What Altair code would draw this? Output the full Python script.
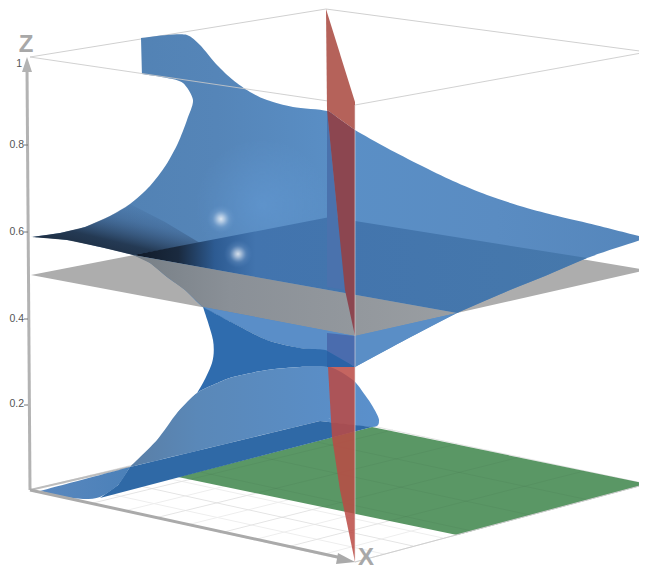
import altair as alt
import pandas as pd

BOX_BACK = [(30,57),(326,9),(647,52)]
BOX_FRONT = [(30,57),(355,105),(647,52)]
FLOOR_EDGE = [(355,562),(647,484)]
FLOOR_BACK = [(30,490),(130,467)]
LF = [(30,490),(61,497),(93,503),(124,511),(155,518),(187,525),(220,533),(253,540),(287,547),(321,555),(355,562)]
BR = [(330,417),(362,424),(393,430),(425,437),(457,444),(489,450),(520,457),(552,464),(584,471),(615,477),(647,484)]
LB = [(30,490),(60,483),(90,475),(120,468),(150,461),(180,454),(210,446),(240,439),(270,432),(300,424),(330,417)]
FR = [(355,562),(384,554),(413,546),(443,538),(472,531),(501,523),(530,515),(559,507),(589,500),(618,492),(647,484)]

GREEN = [(178,477),(372,427),(647,484),(457,535)]
GRAY_PLANE = [(31,275),(330,217),(647,270),(355,336)]
BLUE_UPPER = [(141,38),(167,35),(187,35),(200,45),(217,65),(233,80),(250,92),(267,100),(293,107),(327,111),
              (340,120),(355,130),(387,148),(420,165),(453,181),(487,195),(520,206),(553,215),(587,223),
              (647,238),(587,258),(545,276),(510,290),(457,313),(405,340),(355,367),(330,351),(300,348),(267,340),
              (233,323),(203,307),(185,290),(167,277),(150,263),(133,255),(100,247),(67,240),(32,237),(60,233),
              (85,227),(110,216),(130,204),(150,186),(166,165),(178,143),(187,120),(193,100),(183,83),(167,78),(142,74)]
UPPER_CORNERS = [(141,38),(647,238),(355,367),(32,237),(142,74)]
BLUE_OVER_PLANE = [(133,255),(330,217),(587,258),(545,276),(510,290),(457,313)]
TIP_SHADE = [(32,237),(60,233),(85,227),(110,216),(130,204),(165,222),(200,243),(133,255),(100,247),(67,240)]
GRAY_OVER_BLUE = [(133,255),(457,313),(355,336),(203,307),(185,290),(167,277),(150,263)]
BLUE_BELOW_PLANE = [(355,367),(330,351),(300,348),(267,340),(233,323),(203,307),(355,336)]
BLUE_BELOW_RIGHT = [(355,336),(457,313),(405,340),(355,367)]
BLUE_WAIST = [(203,307),(233,323),(267,340),(300,348),(330,351),(355,367),(330,367),(300,367),(267,370),(233,377),
              (213,385),(197,393),(177,413),(197,393),(212,363),(213,340)]
WAIST_CORNERS = [(203,307),(355,367),(177,413)]
BLUE_LOWER = [(197,393),(213,385),(233,377),(267,370),(300,367),(330,367),(353,380),(365,395),(373,407),(379,420),
              (372,427),(320,421),(130,467),(157,440),(177,413)]
LOWER_CORNERS = [(320,421),(130,467)]
BLUE_BAND = [(130,467),(320,421),(372,427),(330,438),(180,477),(100,498),(118,485)]
BLUE_FOOT = [(40,491),(130,467),(118,485),(100,497),(85,499),(65,497)]

RED_TOP = [(326,9),(355,102),(355,130),(327,110)]
RED_DARK = [(327,110),(355,130),(355,336),(345,290)]
STRIP_TOP = [(327,110),(345,290),(327,287)]
STRIP_MID = [(327,333),(355,336),(355,367),(327,351)]
STRIP_BAND = [(327,351),(355,367),(327,367)]
RED_LOWER = [(328,367),(355,367),(355,562),(340,490),(332,437)]

Z_AXIS = [(30,490),(27,68)]
Z_HEAD = [(22,72),(27,57),(32,72)]
X_AXIS = [(30,490),(342,558)]
X_HEAD = [(338,553),(355,562),(336,564)]
Z_TICKS = [(24,145),(28,145),(24,232),(28,232),(24,319),(28,319),(24,405),(28,405)]
TICK_TEXT = ["1","0.8","0.6","0.4","0.2"]
TICK_X = [22,24,24,24,24]
TICK_Y = [64,145,232,319,404]
GLOW_X = [221,238]
GLOW_Y = [219,254]
SHEEN_X = [262]
SHEEN_Y = [205]
LETTER_X = [26,366]
LETTER_Y = [45,558]
LETTERS = ["Z","X"]

X = alt.X("x:Q", scale=alt.Scale(domain=[8,639], nice=False, zero=False), axis=None)
Y = alt.Y("y:Q", scale=alt.Scale(domain=[569,8], nice=False, zero=False), axis=None)

def frame(pts):
    return pd.DataFrame({"x":[p[0] for p in pts],"y":[p[1] for p in pts],"i":range(len(pts))})

def poly(pts, fill, opacity=1):
    return alt.Chart(frame(pts)).mark_line(fill=fill, fillOpacity=opacity, strokeWidth=0, interpolate="linear-closed").encode(x=X, y=Y, order="i:Q")

def curved(pts, corners, fill, opacity=1):
    out = []
    for p in pts:
        out += [p,p,p] if p in corners else [p]
    return alt.Chart(frame(out)).mark_line(fill=fill, fillOpacity=opacity, strokeWidth=0, interpolate="cardinal-closed", tension=0.2).encode(x=X, y=Y, order="i:Q")

def wire(pts, color, width=1, opacity=1):
    return alt.Chart(frame(pts)).mark_line(color=color, strokeWidth=width, opacity=opacity).encode(x=X, y=Y, order="i:Q")

def lin(x1,y1,x2,y2,stops):
    return alt.Gradient(gradient="linear", x1=x1, y1=y1, x2=x2, y2=y2,
                        stops=[alt.GradientStop(offset=o,color=c) for o,c in stops])

def rad(stops):
    return alt.Gradient(gradient="radial", x1=0.5,y1=0.5,x2=0.5,y2=0.5,r1=0,r2=0.5,
                        stops=[alt.GradientStop(offset=o,color=c) for o,c in stops])

layers = []
layers.append(wire(BOX_BACK,"#d0d0d0"))
for a,b in zip(LF,BR):
    layers.append(wire([a,b],"#eeeeee"))
for a,b in zip(LB,FR):
    layers.append(wire([a,b],"#eeeeee"))
layers.append(poly(GREEN,"#5a9765"))
for a,b in list(zip(LF,BR))[::2]+list(zip(LB,FR))[::2]:
    layers.append(wire([a,b],"#000000",1,0.04))
layers.append(wire(FLOOR_EDGE,"#cfcfcf"))
layers.append(wire(FLOOR_BACK,"#bdbdbd",2))
layers.append(poly(GRAY_PLANE,"#adadad"))
layers.append(curved(BLUE_UPPER, UPPER_CORNERS, lin(0,0,1,0,[(0,"#4f7fb0"),(0.3,"#5585b8"),(0.5,"#5a8fc6"),(0.75,"#5a8cc2"),(1,"#5586bb")])))
layers.append(alt.Chart(pd.DataFrame({"x":SHEEN_X,"y":SHEEN_Y})).mark_circle(
    size=18000, opacity=1, fill=rad([(0,"rgba(110,170,235,0.3)"),(1,"rgba(110,170,235,0)")])).encode(x=X,y=Y))
layers.append(poly(TIP_SHADE, lin(0,1,0.8,0,[(0,"#161f2c"),(0.4,"rgba(25,40,60,0.8)"),(0.7,"rgba(50,80,120,0.35)"),(1,"rgba(60,100,150,0)")])))
layers.append(poly(BLUE_OVER_PLANE, lin(0,0,1,0,[(0,"#101a28"),(0.1,"#1a2a3f"),(0.18,"#2d5b92"),(0.27,"#4274ae"),(1,"#4678ab")])))
layers.append(poly(GRAY_OVER_BLUE, lin(0,0,1,0,[(0,"#777f86"),(0.3,"#8a9097"),(1,"#9a9ea2")])))
layers.append(poly(BLUE_BELOW_PLANE,"#5a8ec8"))
layers.append(poly(BLUE_BELOW_RIGHT,"#5a8ec6"))
layers.append(curved(BLUE_WAIST, WAIST_CORNERS, "#2f6cae"))
layers.append(curved(BLUE_LOWER, LOWER_CORNERS, lin(0,0,1,0,[(0,"#5a7da3"),(0.3,"#5a88b8"),(1,"#5a90cc")])))
layers.append(poly(BLUE_BAND,"#2f69a6"))
layers.append(curved(BLUE_FOOT, [(40,491),(130,467)], lin(0,0,1,0,[(0,"#5a88bf"),(1,"#4a80b8")])))
layers.append(alt.Chart(pd.DataFrame({"x":GLOW_X,"y":GLOW_Y})).mark_circle(
    size=800, opacity=1,
    fill=rad([(0,"rgba(255,255,255,0.8)"),(0.25,"rgba(240,245,252,0.55)"),(0.6,"rgba(190,215,245,0.15)"),(1,"rgba(120,170,230,0)")])).encode(x=X,y=Y))
layers.append(wire(BOX_FRONT,"#c9c9c9",1,0.85))
layers.append(poly(RED_TOP,"#b5625a"))
layers.append(poly(STRIP_TOP,"#4a72ad"))
layers.append(poly(RED_DARK,"#8c4650"))
layers.append(poly(STRIP_MID,"#4a6cae"))
layers.append(poly(STRIP_BAND,"#2b62a6"))
layers.append(poly(RED_LOWER,"#bb4a44",0.85))
layers.append(wire([(355,105),(355,560)],"#e8dcdc",1,0.6))
layers.append(wire(Z_AXIS,"#b3b3b3",3))
layers.append(poly(Z_HEAD,"#b3b3b3"))
layers.append(wire(X_AXIS,"#aaaaaa",3))
layers.append(poly(X_HEAD,"#aaaaaa"))
for k in range(0,len(Z_TICKS),2):
    layers.append(wire(Z_TICKS[k:k+2],"#777777",1))
layers.append(alt.Chart(pd.DataFrame({"x":TICK_X,"y":TICK_Y,"t":TICK_TEXT})).mark_text(
    align="right", baseline="middle", fontSize=10.5, color="#555555", font="Liberation Sans").encode(x=X,y=Y,text="t:N"))
layers.append(alt.Chart(pd.DataFrame({"x":LETTER_X,"y":LETTER_Y,"t":LETTERS})).mark_text(
    align="center", baseline="middle", fontSize=24, fontWeight="bold", color="#a8a8a8", font="Liberation Sans").encode(x=X,y=Y,text="t:N"))

chart = alt.layer(*layers).properties(width=631, height=561, padding=0, autosize="none").configure_view(stroke=None)
chart.save("out.html", embed_options={"renderer":"svg","actions":False})
